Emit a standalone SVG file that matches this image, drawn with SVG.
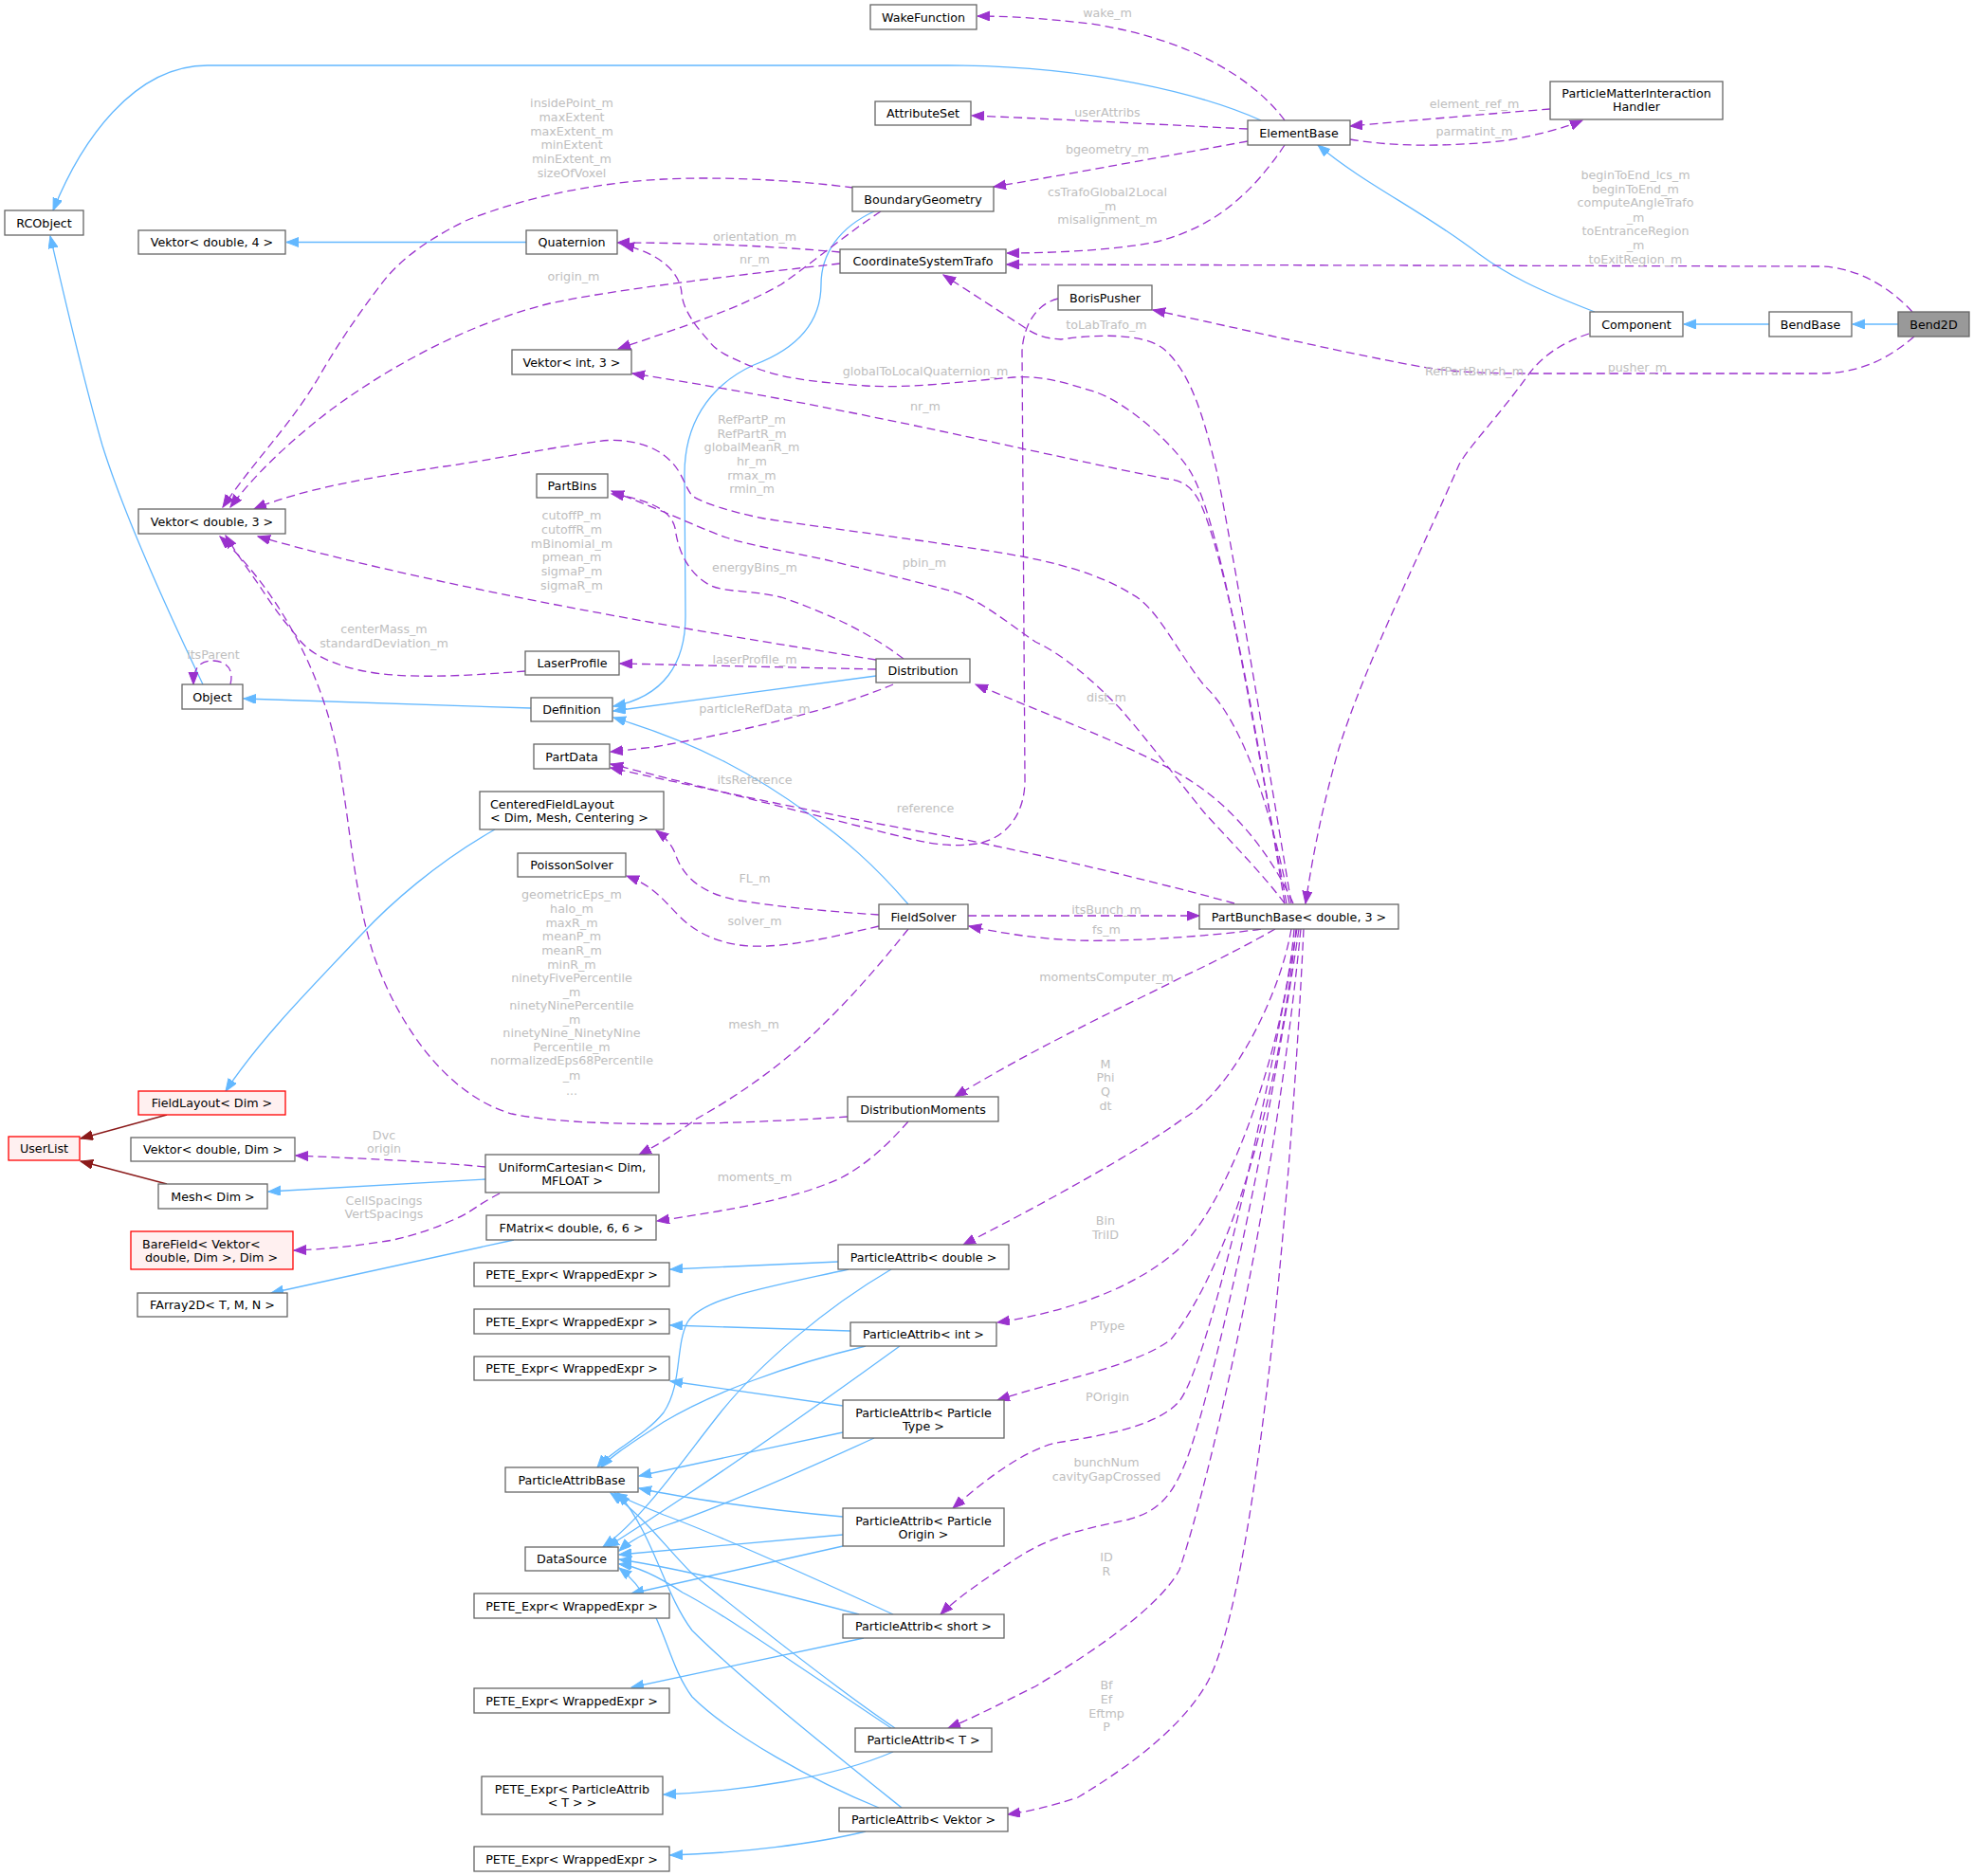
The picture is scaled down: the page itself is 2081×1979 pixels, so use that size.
<svg xmlns="http://www.w3.org/2000/svg" width="2081" height="1979" viewBox="0 0 2081 1979">
<defs>
<style>
.n rect{fill:#fff;stroke:#666;stroke-width:1.3}
.r rect{fill:#fff0f0;stroke:#ff0000;stroke-width:1.3}
.g rect{fill:#999;stroke:#666;stroke-width:1.3}
text{font-family:"DejaVu Sans","Liberation Sans",sans-serif;font-size:12.7px}
.n text,.r text,.g text{fill:#000;text-anchor:middle}
text.l{text-anchor:start}
.lb text{fill:#bebebe;text-anchor:middle}
.inh{fill:none;stroke:#63b8ff;stroke-width:1.3;marker-end:url(#ab)}
.ul{fill:none;stroke:#8b1a1a;stroke-width:1.3;marker-end:url(#ar)}
.cmp{fill:none;stroke:#9a32cd;stroke-width:1.3;stroke-dasharray:9,5;marker-end:url(#ap)}
</style>
<marker id="ab" markerWidth="14" markerHeight="11" refX="13" refY="5" orient="auto" markerUnits="userSpaceOnUse"><path d="M0,0 L13,5 L0,10 z" fill="#63b8ff" stroke="#63b8ff" stroke-width="1"/></marker>
<marker id="ar" markerWidth="14" markerHeight="11" refX="13" refY="5" orient="auto" markerUnits="userSpaceOnUse"><path d="M0,0 L13,5 L0,10 z" fill="#8b1a1a" stroke="#8b1a1a" stroke-width="1"/></marker>
<marker id="ap" markerWidth="14" markerHeight="11" refX="13" refY="5" orient="auto" markerUnits="userSpaceOnUse"><path d="M0,0 L13,5 L0,10 z" fill="#9a32cd" stroke="#9a32cd" stroke-width="1"/></marker>
</defs>
<rect x="0" y="0" width="2081" height="1979" fill="#fff"/>
<g id="edges">
<path class="inh" d="M1330,127 C1270,100 1150,69 1000,69 L219,69 C140,69 85,150 56,222"/>
<path class="inh" d="M1682,329 C1620,305 1590,290 1560,268 C1500,222 1440,195 1390,153"/>
<path class="inh" d="M1866,342 L1776,342"/>
<path class="inh" d="M2002,342 L1954,342"/>
<path class="inh" d="M555,255.5 L302,255.5"/>
<path class="inh" d="M214,722 C170,630 130,540 108,470 C85,390 65,300 53,249"/>
<path class="inh" d="M560,747 L257,737"/>
<path class="inh" d="M922,223 C885,240 866,268 866,300 C866,345 835,370 795,385 C745,408 722,450 722,500 L723,650 C723,700 700,735 647,745"/>
<path class="inh" d="M924,713 L647,750"/>
<path class="inh" d="M958,954 C920,910 890,885 855,860 C800,820 740,785 647,757"/>
<path class="inh" d="M522,875 C460,910 410,955 382,985 C330,1040 275,1095 238,1151"/>
<path class="ul" d="M176,1176 L85,1201"/>
<path class="ul" d="M176,1249 L85,1225"/>
<path class="inh" d="M512,1244 L283,1257"/>
<path class="inh" d="M542,1308 L286,1364"/>
<path class="inh" d="M884,1331 L707,1339"/>
<path class="inh" d="M895,1339 C800,1360 740,1370 725,1395 C712,1420 720,1460 700,1490 C680,1515 645,1530 630,1548"/>
<path class="inh" d="M940,1339 C870,1380 800,1440 760,1490 C720,1540 680,1600 636,1632"/>
<path class="inh" d="M897,1404 L707,1398"/>
<path class="inh" d="M913,1420 C830,1440 750,1470 700,1500 C670,1520 645,1535 634,1548"/>
<path class="inh" d="M949,1420 C880,1470 780,1540 720,1580 C690,1600 660,1620 640,1632"/>
<path class="inh" d="M889,1483 L707,1457"/>
<path class="inh" d="M889,1511 L674,1557"/>
<path class="inh" d="M922,1517 C850,1550 760,1590 700,1610 C680,1617 665,1625 653,1636"/>
<path class="inh" d="M889,1600 C800,1592 720,1580 674,1570"/>
<path class="inh" d="M889,1619 L653,1640"/>
<path class="inh" d="M889,1631 L666,1681"/>
<path class="inh" d="M942,1703 C870,1670 760,1620 700,1598 C680,1590 660,1582 648,1575"/>
<path class="inh" d="M906,1703 C820,1680 720,1655 653,1645"/>
<path class="inh" d="M911,1728 L666,1780"/>
<path class="inh" d="M944,1823 C880,1780 780,1700 730,1660 C700,1630 680,1600 644,1575"/>
<path class="inh" d="M940,1823 C860,1770 760,1700 720,1680 C690,1660 670,1652 653,1650"/>
<path class="inh" d="M942,1848 C880,1875 780,1890 700,1893"/>
<path class="inh" d="M951,1907 C880,1850 780,1770 730,1720 C700,1680 690,1620 652,1575"/>
<path class="inh" d="M927,1907 C860,1880 770,1830 730,1790 C700,1750 700,1690 653,1654"/>
<path class="inh" d="M913,1932 C860,1945 780,1955 707,1957"/>

<path class="cmp" d="M1355,127 C1320,80 1250,40 1150,25 C1100,19 1060,17 1031,17"/>
<path class="cmp" d="M1316,136 C1200,130 1100,125 1025,122"/>
<path class="cmp" d="M1316,149 C1200,170 1120,185 1048,197"/>
<path class="cmp" d="M1355,153 C1320,205 1280,240 1220,255 C1170,265 1100,267 1062,267"/>
<path class="cmp" d="M1424,147 C1470,155 1530,155 1590,148 C1620,143 1650,135 1669,127"/>
<path class="cmp" d="M1635,115 C1570,120 1480,128 1424,133"/>
<path class="cmp" d="M2017,329 C1995,305 1960,281 1917,281 L1062,279"/>
<path class="cmp" d="M2019,355 C1990,380 1960,394 1917,394 L1613,394 C1560,394 1530,392 1500,387 C1440,377 1300,345 1216,327"/>
<path class="cmp" d="M1676,352 C1645,362 1625,378 1613,394 C1580,440 1550,470 1539,490 C1500,580 1440,700 1412,790 C1395,850 1385,900 1377,953"/>
<path class="cmp" d="M1362,953 C1330,760 1300,580 1284,500 C1270,440 1255,390 1226,367 C1205,352 1160,352 1119,358 C1100,357 1090,352 1080,345 L995,290"/>
<path class="cmp" d="M1116,315 C1095,320 1080,340 1078,370 L1081,820 C1082,860 1060,885 1030,890 C1010,893 990,892 960,885 L644,806"/>
<path class="cmp" d="M1302,953 C1200,925 1050,890 958,875 C880,860 780,840 644,810"/>
<path class="cmp" d="M1357,953 C1320,760 1290,560 1257,500 C1240,470 1190,425 1154,413 C1120,403 1100,396 1069,398 C1020,402 960,410 913,407 C870,404 830,400 802,390 C770,378 755,370 748,360 C725,335 720,320 719,310 C718,290 700,268 656,258"/>
<path class="cmp" d="M1355,953 C1330,800 1300,620 1270,540 C1260,515 1250,507 1230,505 C1100,480 900,430 667,394"/>
<path class="cmp" d="M929,223 C895,245 860,275 824,300 C780,325 720,345 652,368"/>
<path class="cmp" d="M886,266 C820,260 740,256 651,256"/>
<path class="cmp" d="M886,278 C780,290 650,305 580,320 C500,340 420,380 348,433 C300,470 265,505 243,535"/>
<path class="cmp" d="M900,198 C840,190 760,186 700,189 C640,192 560,205 491,233 C440,258 415,282 402,300 C375,335 352,370 335,400 C305,450 265,490 235,535"/>
<path class="cmp" d="M1360,953 C1340,850 1310,760 1270,723 C1240,685 1220,640 1194,627 C1160,605 1110,593 1078,587 C1000,573 870,557 806,547 C770,540 740,530 730,523 C720,510 720,495 700,480 C680,465 650,462 629,466 C580,472 520,485 469,492 C400,502 320,515 268,537"/>
<path class="cmp" d="M1355,953 C1330,920 1300,890 1270,857 C1240,820 1210,780 1181,747 C1150,715 1120,690 1092,677 C1060,655 1030,630 1002,623 C960,612 910,600 869,590 C830,582 790,575 766,567 C740,558 715,545 645,518"/>
<path class="cmp" d="M1364,953 C1340,900 1300,850 1250,820 C1200,790 1120,760 1029,722"/>
<path class="cmp" d="M953,695 C920,670 882,650 824,630 C790,622 766,625 750,618 C725,605 715,580 712,557 C708,540 690,528 645,521"/>
<path class="cmp" d="M924,696 C800,676 500,630 272,566"/>
<path class="cmp" d="M924,706 L654,700"/>
<path class="cmp" d="M942,722 C900,740 820,765 690,788 L644,793"/>
<path class="cmp" d="M554,708 C500,712 430,718 379,707 C340,698 322,685 312,670 C295,650 285,635 277,623 C265,605 250,585 238,565"/>
<path class="cmp" d="M243,722 C246,710 243,698 225,697 C208,697 204,708 204,722"/>
<path class="cmp" d="M894,1178 C760,1187 610,1190 540,1175 C470,1155 420,1080 395,1010 C375,950 370,880 360,820 C350,740 310,640 232,566"/>
<path class="cmp" d="M927,965 C880,962 824,957 780,950 C740,943 720,925 712,900 C708,890 700,882 692,876"/>
<path class="cmp" d="M927,977 C880,988 830,1000 790,998 C760,996 735,985 717,967 C700,950 690,935 661,924"/>
<path class="cmp" d="M958,980 C930,1015 900,1050 869,1080 C830,1120 780,1155 735,1180 C715,1195 695,1207 674,1218"/>
<path class="cmp" d="M1021,966 L1265,966"/>
<path class="cmp" d="M1330,980 C1300,985 1200,994 1136,992 C1090,990 1055,984 1022,977"/>
<path class="cmp" d="M1345,980 C1310,1000 1270,1020 1248,1030 C1200,1055 1100,1100 1007,1157"/>
<path class="cmp" d="M958,1183 C930,1215 900,1240 869,1250 C830,1265 780,1275 693,1288"/>
<path class="cmp" d="M512,1231 C450,1225 380,1222 312,1219"/>
<path class="cmp" d="M527,1259 C505,1270 495,1280 482,1285 C450,1300 420,1308 402,1310 C370,1315 340,1318 310,1319"/>
<path class="cmp" d="M1362,980 C1350,1050 1300,1150 1248,1180 C1200,1215 1100,1270 1016,1313"/>
<path class="cmp" d="M1365,980 C1355,1100 1300,1260 1248,1313 C1200,1360 1120,1385 1052,1395"/>
<path class="cmp" d="M1367,980 C1350,1150 1300,1330 1235,1413 C1200,1440 1120,1455 1052,1477"/>
<path class="cmp" d="M1368,980 C1330,1200 1270,1450 1243,1479 C1220,1505 1160,1515 1114,1522 C1080,1530 1040,1560 1005,1591"/>
<path class="cmp" d="M1370,980 C1330,1250 1270,1500 1249,1546 C1235,1580 1220,1595 1190,1603 C1150,1612 1110,1618 1069,1646 C1040,1665 1010,1685 992,1703"/>
<path class="cmp" d="M1372,980 C1340,1300 1270,1580 1244,1656 C1220,1700 1140,1750 1092,1779 C1050,1800 1020,1815 1000,1823"/>
<path class="cmp" d="M1375,980 C1360,1300 1320,1700 1271,1779 C1240,1830 1180,1870 1137,1896 C1110,1905 1090,1910 1063,1914"/>
</g>
<g id="edge-labels" class="lb">
<text x="1168" y="17.5">wake_m</text>
<text x="1168" y="122.5">userAttribs</text>
<text x="1168" y="161.5">bgeometry_m</text>
<text x="1168" y="206.5">csTrafoGlobal2Local</text>
<text x="1168" y="221.5">_m</text>
<text x="1168" y="235.5">misalignment_m</text>
<text x="1555" y="114">element_ref_m</text>
<text x="1555" y="142.5">parmatint_m</text>
<text x="1725" y="188.5">beginToEnd_lcs_m</text>
<text x="1725" y="203.5">beginToEnd_m</text>
<text x="1725" y="217.5">computeAngleTrafo</text>
<text x="1725" y="233.5">_m</text>
<text x="1725" y="247.5">toEntranceRegion</text>
<text x="1725" y="262.5">_m</text>
<text x="1725" y="277.5">toExitRegion_m</text>
<text x="1727" y="391.5">pusher_m</text>
<text x="1555" y="395.5">RefPartBunch_m</text>
<text x="1167" y="346.5">toLabTrafo_m</text>
<text x="796" y="253.5">orientation_m</text>
<text x="796" y="277.5">nr_m</text>
<text x="605" y="295.5">origin_m</text>
<text x="603" y="112.5">insidePoint_m</text>
<text x="603" y="127.5">maxExtent</text>
<text x="603" y="142.5">maxExtent_m</text>
<text x="603" y="156.5">minExtent</text>
<text x="603" y="171.5">minExtent_m</text>
<text x="603" y="186.5">sizeOfVoxel</text>
<text x="976" y="395.5">globalToLocalQuaternion_m</text>
<text x="976" y="432.5">nr_m</text>
<text x="793" y="446.5">RefPartP_m</text>
<text x="793" y="461.5">RefPartR_m</text>
<text x="793" y="475.5">globalMeanR_m</text>
<text x="793" y="490.5">hr_m</text>
<text x="793" y="505.5">rmax_m</text>
<text x="793" y="519.5">rmin_m</text>
<text x="796" y="602.5">energyBins_m</text>
<text x="975" y="597.5">pbin_m</text>
<text x="603" y="547.5">cutoffP_m</text>
<text x="603" y="562.5">cutoffR_m</text>
<text x="603" y="577.5">mBinomial_m</text>
<text x="603" y="591.5">pmean_m</text>
<text x="603" y="606.5">sigmaP_m</text>
<text x="603" y="621.5">sigmaR_m</text>
<text x="405" y="667.5">centerMass_m</text>
<text x="405" y="682.5">standardDeviation_m</text>
<text x="796" y="699.5">laserProfile_m</text>
<text x="1167" y="739.5">dist_m</text>
<text x="796" y="751.5">particleRefData_m</text>
<text x="225" y="694.5">itsParent</text>
<text x="796" y="826.5">itsReference</text>
<text x="976" y="856.5">reference</text>
<text x="796" y="930.5">FL_m</text>
<text x="1167" y="963.5">itsBunch_m</text>
<text x="796" y="975.5">solver_m</text>
<text x="1167" y="984.5">fs_m</text>
<text x="603" y="947.5">geometricEps_m</text>
<text x="603" y="962.5">halo_m</text>
<text x="603" y="977.5">maxR_m</text>
<text x="603" y="991.5">meanP_m</text>
<text x="603" y="1006.5">meanR_m</text>
<text x="603" y="1021.5">minR_m</text>
<text x="603" y="1035.5">ninetyFivePercentile</text>
<text x="603" y="1050.5">_m</text>
<text x="603" y="1064.5">ninetyNinePercentile</text>
<text x="603" y="1079.5">_m</text>
<text x="603" y="1093.5">ninetyNine_NinetyNine</text>
<text x="603" y="1108.5">Percentile_m</text>
<text x="603" y="1122.5">normalizedEps68Percentile</text>
<text x="603" y="1138.5">_m</text>
<text x="603" y="1154.5">...</text>
<text x="1167" y="1034.5">momentsComputer_m</text>
<text x="795" y="1084.5">mesh_m</text>
<text x="1166" y="1126.5">M</text>
<text x="1166" y="1140.5">Phi</text>
<text x="1166" y="1155.5">Q</text>
<text x="1166" y="1170.5">dt</text>
<text x="405" y="1201.5">Dvc</text>
<text x="405" y="1215.5">origin</text>
<text x="796" y="1245.5">moments_m</text>
<text x="405" y="1270.5">CellSpacings</text>
<text x="405" y="1284.5">VertSpacings</text>
<text x="1166" y="1291.5">Bin</text>
<text x="1166" y="1306.5">TriID</text>
<text x="1168" y="1402.5">PType</text>
<text x="1168" y="1477.5">POrigin</text>
<text x="1167" y="1546.5">bunchNum</text>
<text x="1167" y="1561.5">cavityGapCrossed</text>
<text x="1167" y="1646.5">ID</text>
<text x="1167" y="1661.5">R</text>
<text x="1167" y="1781.5">Bf</text>
<text x="1167" y="1796.5">Ef</text>
<text x="1167" y="1811.5">Eftmp</text>
<text x="1167" y="1825.5">P</text>
</g>
<g id="n-Bend2D" class="g"><rect x="2002" y="329" width="75" height="26"/><text x="2039.5" y="346.5">Bend2D</text></g>
<g id="n-BendBase" class="n"><rect x="1866" y="329" width="87" height="26"/><text x="1909.5" y="346.5">BendBase</text></g>
<g id="n-Component" class="n"><rect x="1677" y="329" width="98" height="26"/><text x="1726" y="346.5">Component</text></g>
<g id="n-ElementBase" class="n"><rect x="1316" y="127" width="108" height="26"/><text x="1370" y="144.5">ElementBase</text></g>
<g id="n-RCObject" class="n"><rect x="5" y="222" width="83" height="26"/><text x="46.5" y="239.5">RCObject</text></g>
<g id="n-WakeFunction" class="n"><rect x="918" y="5" width="112" height="26"/><text x="974" y="22.5">WakeFunction</text></g>
<g id="n-AttributeSet" class="n"><rect x="923" y="107" width="101" height="25"/><text x="973.5" y="124">AttributeSet</text></g>
<g id="n-PMIH" class="n"><rect x="1635" y="86" width="182" height="40"/><text x="1726" y="102.5">ParticleMatterInteraction</text><text x="1726" y="117">Handler</text></g>
<g id="n-BoundaryGeometry" class="n"><rect x="899" y="197" width="149" height="26"/><text x="973.5" y="214.5">BoundaryGeometry</text></g>
<g id="n-CoordinateSystemTrafo" class="n"><rect x="886" y="263" width="175" height="25"/><text x="973.5" y="280">CoordinateSystemTrafo</text></g>
<g id="n-BorisPusher" class="n"><rect x="1116" y="301" width="99" height="26"/><text x="1165.5" y="318.5">BorisPusher</text></g>
<g id="n-Quaternion" class="n"><rect x="555" y="243" width="96" height="25"/><text x="603" y="260">Quaternion</text></g>
<g id="n-VektorD4" class="n"><rect x="146" y="243" width="155" height="25"/><text x="223.5" y="260">Vektor&lt; double, 4 &gt;</text></g>
<g id="n-VektorI3" class="n"><rect x="540" y="369" width="126" height="26"/><text x="603" y="386.5">Vektor&lt; int, 3 &gt;</text></g>
<g id="n-VektorD3" class="n"><rect x="146" y="537" width="155" height="26"/><text x="223.5" y="554.5">Vektor&lt; double, 3 &gt;</text></g>
<g id="n-PartBins" class="n"><rect x="566" y="500" width="75" height="25"/><text x="603.5" y="517">PartBins</text></g>
<g id="n-LaserProfile" class="n"><rect x="554" y="687" width="99" height="25"/><text x="603.5" y="704">LaserProfile</text></g>
<g id="n-Object" class="n"><rect x="192" y="722" width="64" height="26"/><text x="224" y="739.5">Object</text></g>
<g id="n-Definition" class="n"><rect x="560" y="736" width="86" height="25"/><text x="603" y="753">Definition</text></g>
<g id="n-PartData" class="n"><rect x="563" y="785" width="80" height="26"/><text x="603" y="802.5">PartData</text></g>
<g id="n-CenteredFieldLayout" class="n"><rect x="506" y="835" width="194" height="40"/><text class="l" x="517" y="852.5">CenteredFieldLayout</text><text class="l" x="517" y="867">&lt; Dim, Mesh, Centering &gt;</text></g>
<g id="n-PoissonSolver" class="n"><rect x="546" y="900" width="114" height="25"/><text x="603" y="917">PoissonSolver</text></g>
<g id="n-Distribution" class="n"><rect x="924" y="695" width="99" height="25"/><text x="973.5" y="712">Distribution</text></g>
<g id="n-FieldSolver" class="n"><rect x="927" y="954" width="94" height="26"/><text x="974" y="971.5">FieldSolver</text></g>
<g id="n-PartBunchBase" class="n"><rect x="1265" y="954" width="210" height="26"/><text x="1370" y="971.5">PartBunchBase&lt; double, 3 &gt;</text></g>
<g id="n-DistributionMoments" class="n"><rect x="894" y="1157" width="159" height="26"/><text x="973.5" y="1174.5">DistributionMoments</text></g>
<g id="n-FieldLayout" class="r"><rect x="146" y="1151" width="155" height="25"/><text x="223.5" y="1168">FieldLayout&lt; Dim &gt;</text></g>
<g id="n-UserList" class="r"><rect x="9" y="1199" width="75" height="25"/><text x="46.5" y="1216">UserList</text></g>
<g id="n-VektorDDim" class="n"><rect x="138" y="1200" width="173" height="25"/><text x="224.5" y="1217">Vektor&lt; double, Dim &gt;</text></g>
<g id="n-Mesh" class="n"><rect x="167" y="1249" width="115" height="26"/><text x="224.5" y="1266.5">Mesh&lt; Dim &gt;</text></g>
<g id="n-BareField" class="r"><rect x="138" y="1299" width="171" height="40"/><text class="l" x="150" y="1316.5">BareField&lt; Vektor&lt;</text><text class="l" x="153" y="1331">double, Dim &gt;, Dim &gt;</text></g>
<g id="n-FArray2D" class="n"><rect x="145" y="1364" width="158" height="25"/><text x="224" y="1381">FArray2D&lt; T, M, N &gt;</text></g>
<g id="n-UniformCartesian" class="n"><rect x="512" y="1218" width="183" height="40"/><text x="603.5" y="1235.5">UniformCartesian&lt; Dim,</text><text x="603.5" y="1250">MFLOAT &gt;</text></g>
<g id="n-FMatrix" class="n"><rect x="513" y="1282" width="179" height="26"/><text x="602.5" y="1299.5">FMatrix&lt; double, 6, 6 &gt;</text></g>
<g id="n-PETE1" class="n"><rect x="500" y="1332" width="206" height="25"/><text x="603" y="1349">PETE_Expr&lt; WrappedExpr &gt;</text></g>
<g id="n-PETE2" class="n"><rect x="500" y="1381" width="206" height="26"/><text x="603" y="1398.5">PETE_Expr&lt; WrappedExpr &gt;</text></g>
<g id="n-PETE3" class="n"><rect x="500" y="1431" width="206" height="25"/><text x="603" y="1448">PETE_Expr&lt; WrappedExpr &gt;</text></g>
<g id="n-PADouble" class="n"><rect x="884" y="1313" width="180" height="26"/><text x="974" y="1330.5">ParticleAttrib&lt; double &gt;</text></g>
<g id="n-PAInt" class="n"><rect x="897" y="1395" width="154" height="25"/><text x="974" y="1412">ParticleAttrib&lt; int &gt;</text></g>
<g id="n-ParticleAttribBase" class="n"><rect x="533" y="1548" width="140" height="26"/><text x="603" y="1565.5">ParticleAttribBase</text></g>
<g id="n-DataSource" class="n"><rect x="554" y="1632" width="98" height="25"/><text x="603" y="1649">DataSource</text></g>
<g id="n-PETE4" class="n"><rect x="500" y="1681" width="206" height="26"/><text x="603" y="1698.5">PETE_Expr&lt; WrappedExpr &gt;</text></g>
<g id="n-PETE5" class="n"><rect x="500" y="1781" width="206" height="26"/><text x="603" y="1798.5">PETE_Expr&lt; WrappedExpr &gt;</text></g>
<g id="n-PETEPA" class="n"><rect x="508" y="1874" width="191" height="40"/><text x="603.5" y="1891.5">PETE_Expr&lt; ParticleAttrib</text><text x="603.5" y="1906">&lt; T &gt; &gt;</text></g>
<g id="n-PETE6" class="n"><rect x="500" y="1948" width="206" height="26"/><text x="603" y="1965.5">PETE_Expr&lt; WrappedExpr &gt;</text></g>
<g id="n-PAParticleType" class="n"><rect x="889" y="1477" width="170" height="40"/><text x="974" y="1494.5">ParticleAttrib&lt; Particle</text><text x="974" y="1509">Type &gt;</text></g>
<g id="n-PAParticleOrigin" class="n"><rect x="889" y="1591" width="170" height="40"/><text x="974" y="1608.5">ParticleAttrib&lt; Particle</text><text x="974" y="1623">Origin &gt;</text></g>
<g id="n-PAShort" class="n"><rect x="889" y="1703" width="170" height="25"/><text x="974" y="1720">ParticleAttrib&lt; short &gt;</text></g>
<g id="n-PAT" class="n"><rect x="902" y="1823" width="144" height="25"/><text x="974" y="1840">ParticleAttrib&lt; T &gt;</text></g>
<g id="n-PAVektor" class="n"><rect x="885" y="1907" width="178" height="25"/><text x="974" y="1924">ParticleAttrib&lt; Vektor &gt;</text></g>
</svg>
